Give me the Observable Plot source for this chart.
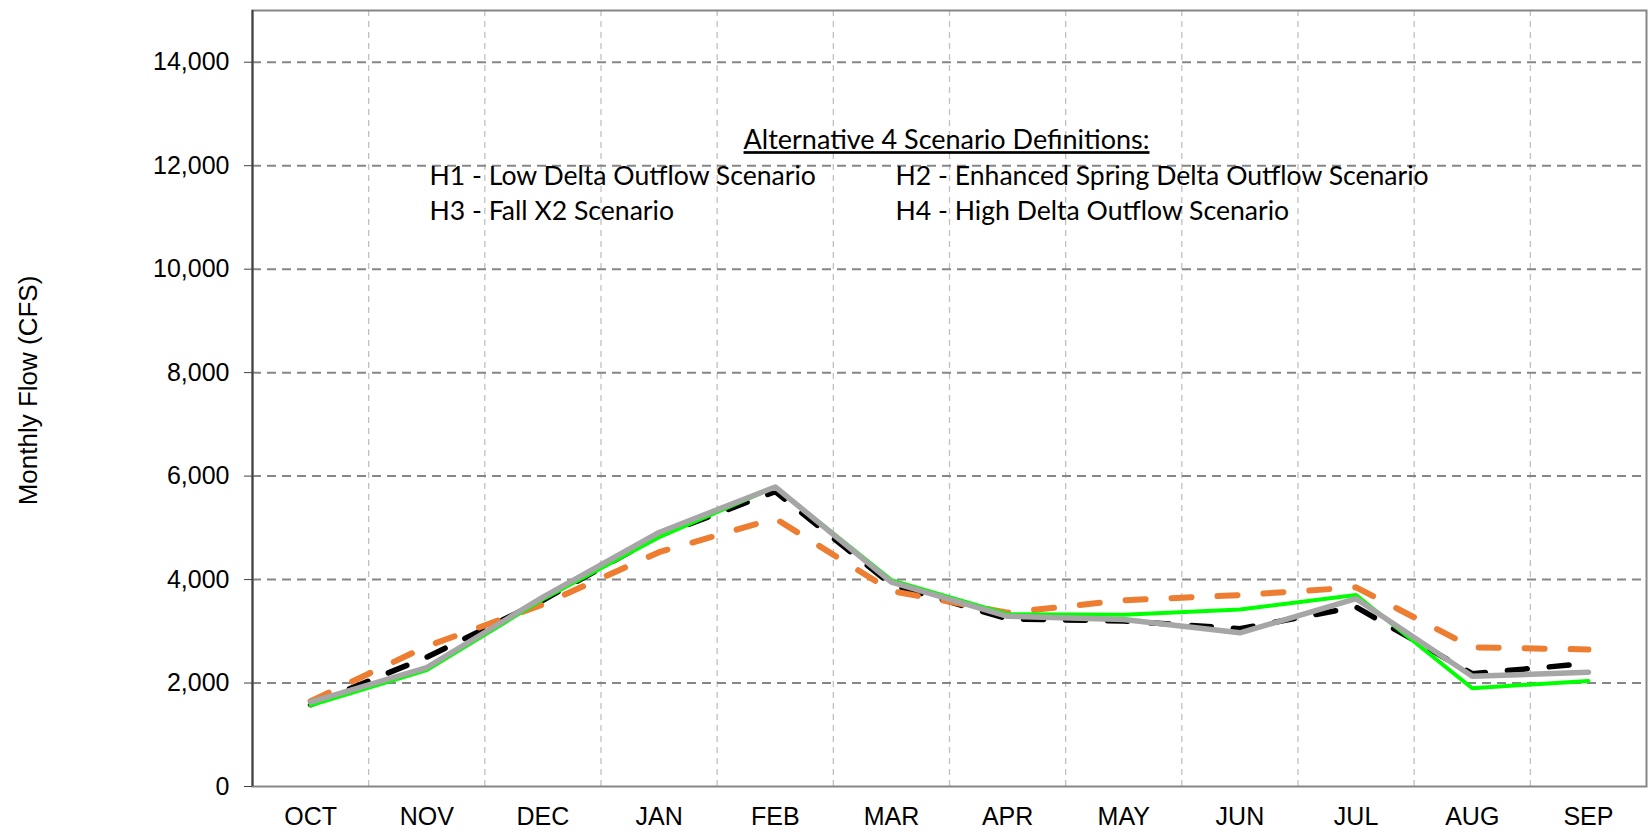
<!DOCTYPE html>
<html><head><meta charset="utf-8">
<script src="https://cdn.jsdelivr.net/npm/d3@7"></script>
<script src="https://cdn.jsdelivr.net/npm/@observablehq/plot@0.6"></script>
<style>
html,body{margin:0;padding:0;background:#fff;}
#chart svg{display:block;}
</style></head><body><div id="chart"></div>
<script>
const months = ["OCT","NOV","DEC","JAN","FEB","MAR","APR","MAY","JUN","JUL","AUG","SEP"];
const seriesNames = ["H1","H2","H3","H4"];
const h1 = [1580, 2500, 3600, 4850, 5700, 3900, 3240, 3200, 3050, 3470, 2180, 2380];
const h2 = [1650, 2710, 3520, 4530, 5180, 3780, 3360, 3600, 3700, 3850, 2690, 2650];
const h3 = [1570, 2250, 3620, 4820, 5790, 3990, 3330, 3320, 3420, 3700, 1900, 2040];
const h4 = [1630, 2300, 3660, 4910, 5790, 3950, 3290, 3230, 2970, 3630, 2130, 2210];
const yTicks = [0, 2000, 4000, 6000, 8000, 10000, 12000, 14000];
const boxTitle = ["Alternative 4 Scenario Definitions:"];
const defsLeft = ["H1 - Low Delta Outflow Scenario", "H3 - Fall X2 Scenario"];
const defsRight = ["H2 - Enhanced Spring Delta Outflow Scenario", "H4 - High Delta Outflow Scenario"];
const yLabel = ["Monthly Flow (CFS)"];

const toRows = (vals) => vals.map((v, i) => ({pos: i + 0.5, month: months[i], value: v}));
const gridX = months.slice(1).map((m, i) => i + 1);

const annFont = "Lato, 'Open Sans', sans-serif";
const axisFont = "'Liberation Sans', Arial, sans-serif";

const chart = Plot.plot({
  width: 1648, height: 832,
  marginLeft: 252, marginRight: 2, marginTop: 10, marginBottom: 46,
  style: {fontFamily: axisFont, fontSize: "24px", color: "#000", background: "#fff"},
  x: {domain: [0, 12], axis: null},
  y: {domain: [0, 15000], axis: null},
  marks: [
    Plot.ruleX(gridX, {stroke: "#c0c0c0", strokeWidth: 1.3, strokeDasharray: "6,5"}),
    Plot.ruleY(yTicks.filter(v => v > 0), {stroke: "#868686", strokeWidth: 2, strokeDasharray: "9,6"}),
    Plot.frame({stroke: "#868686", strokeWidth: 2}),
    Plot.ruleX([0], {stroke: "#404040", strokeWidth: 2}),
    Plot.axisY({ticks: yTicks, tickSize: 8, tickFormat: () => "", label: null, stroke: "#404040"}),
    Plot.text(yTicks, {y: d => d, text: d => d3.format(",")(d), frameAnchor: "left", dx: -23, textAnchor: "end", lineAnchor: "middle", fontSize: 25, fontFamily: axisFont, fill: "#000"}),
    Plot.text(months, {x: (d, i) => i + 0.5, text: d => d, frameAnchor: "bottom", dy: 30, lineAnchor: "middle", fontSize: 25, fontFamily: axisFont, fill: "#000"}),
    Plot.line(toRows(h1), {x: "pos", y: "value", stroke: "#000", strokeWidth: 5.5, strokeDasharray: "20,22", strokeLinecap: "round"}),
    Plot.line(toRows(h2), {x: "pos", y: "value", stroke: "#ED7D31", strokeWidth: 6, strokeDasharray: "20,26", strokeLinecap: "round"}),
    Plot.line(toRows(h3), {x: "pos", y: "value", stroke: "#00FF00", strokeWidth: 4}),
    Plot.line(toRows(h4), {x: "pos", y: "value", stroke: "#A6A6A6", strokeWidth: 5.5}),
    Plot.text(boxTitle, {text: d => d, frameAnchor: "top", dx: -3, dy: 130, lineAnchor: "middle", fontFamily: annFont, fontSize: 27, fill: "#000", className: "ann-title"}),
    Plot.text(defsLeft, {text: d => d, frameAnchor: "top-left", dx: 177, textAnchor: "start", lineAnchor: "middle", fontFamily: annFont, fontSize: 26.6, fill: "#000", className: "ann-left"}),
    Plot.text(defsRight, {text: d => d, frameAnchor: "top-left", dx: 643, textAnchor: "start", lineAnchor: "middle", fontFamily: annFont, fontSize: 26.6, fill: "#000", className: "ann-right"}),
    Plot.text(yLabel, {text: d => d, frameAnchor: "left", dx: -224, dy: -8, rotate: -90, textAnchor: "middle", fontSize: 26, fontFamily: axisFont, fill: "#000"})
  ]
});
document.getElementById("chart").appendChild(chart);
const svg = d3.select(chart);
svg.select(".ann-title text").attr("text-decoration", "underline");
["ann-left", "ann-right"].forEach(cls => {
  svg.selectAll("." + cls + " text").each(function(d, i) {
    const t = d3.select(this);
    const tr = t.attr("transform") || "";
    t.attr("transform", tr + ` translate(0,${165.5 + i * 35.5})`);
  });
});
</script></body></html>
